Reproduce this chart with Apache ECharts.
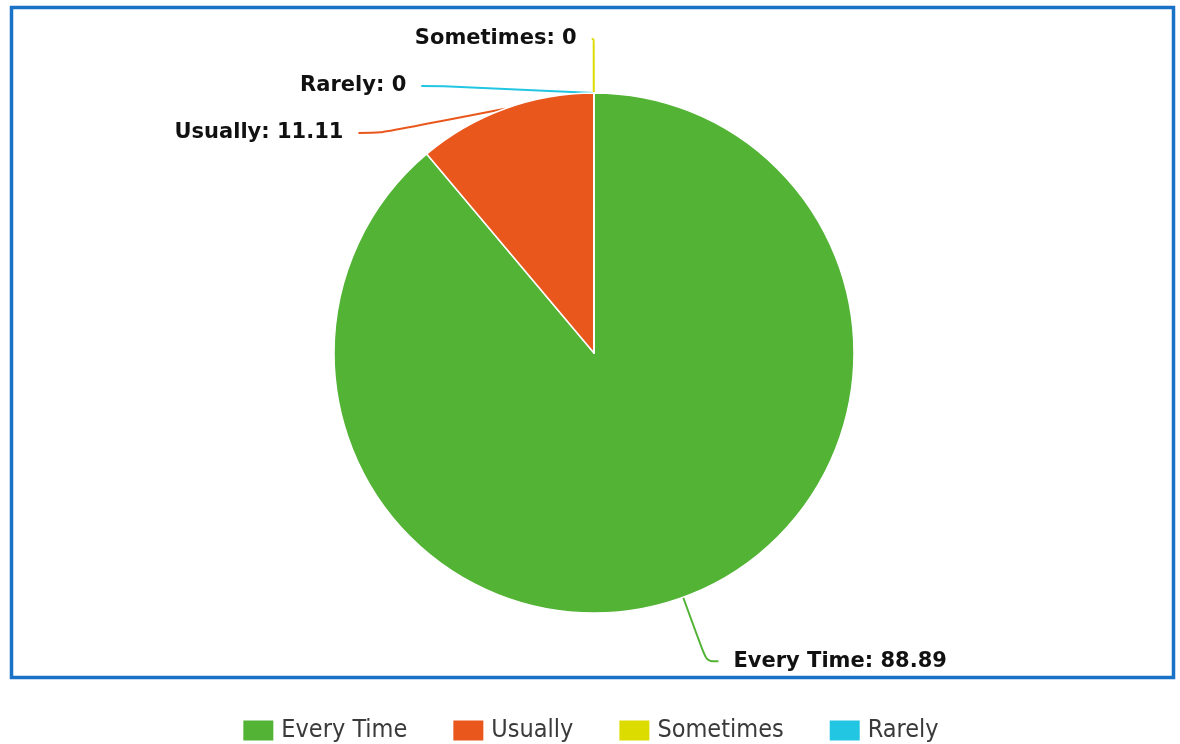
<!DOCTYPE html>
<html>
<head>
<meta charset="utf-8">
<script src="https://cdn.jsdelivr.net/npm/echarts@6/dist/echarts.min.js"></script>
<style>
  html, body { margin: 0; padding: 0; background: #fff; }
  #chart { width: 1180px; height: 744px; }
</style>
</head>
<body>
<div id="chart"></div>
<script>
// responses by frequency
const categories = ['Every Time', 'Usually', 'Sometimes', 'Rarely']
const values = [88.89, 11.11, 0, 0]
const colors = ['#52b335', '#e9571d', '#dcdc00', '#22c6e3']

const chart = echarts.init(document.getElementById('chart'), null, { renderer: 'canvas' })

// leader lines: the big slice reaches further down, the top ones stay short
function leader(v, i) {
  if (v > 50) return { length: 68, length2: 12 }
  if (v > 0) return { length: 60, length2: 22 }
  // first empty slice sits right above the pie, its label hugs the line
  return i === 2 ? { length: 54, length2: 2 } : { length: 54, length2: 22 }
}

chart.setOption({
  animation: false,
  color: colors,
  graphic: [
    {
      type: 'rect',
      shape: { x: 11.5, y: 7.5, width: 1162, height: 670 },
      style: { fill: 'none', stroke: '#1a72c6', lineWidth: 3.5 },
      silent: true,
    },
  ],
  legend: {
    top: 713,
    left: 'center',
    itemWidth: 32,
    itemHeight: 22,
    itemGap: 44,
    icon: 'rect',
    textStyle: { color: '#3a3a3a', fontSize: 25, fontFamily: 'DejaVu Sans Condensed', padding: [0, 0, 0, 2] },
    data: categories,
  },
  series: [
    {
      type: 'pie',
      center: [594, 353],
      radius: 260,
      // nudged a hair past 12 o'clock so the empty slices label on the left
      startAngle: 90.05,
      clockwise: true,
      itemStyle: { borderColor: '#fff', borderWidth: 1.5 },
      label: {
        show: true,
        formatter: '{b}: {c}',
        color: '#111',
        fontSize: 21,
        fontWeight: 'bold',
        fontFamily: 'DejaVu Sans',
        distanceToLabelLine: 15,
        minMargin: 26,
      },
      labelLine: { show: true, smooth: 0.3, lineStyle: { width: 2 } },
      data: categories.map((name, i) => ({
        name,
        value: values[i],
        labelLine: leader(values[i], i),
      })),
    },
  ],
})
</script>
</body>
</html>
